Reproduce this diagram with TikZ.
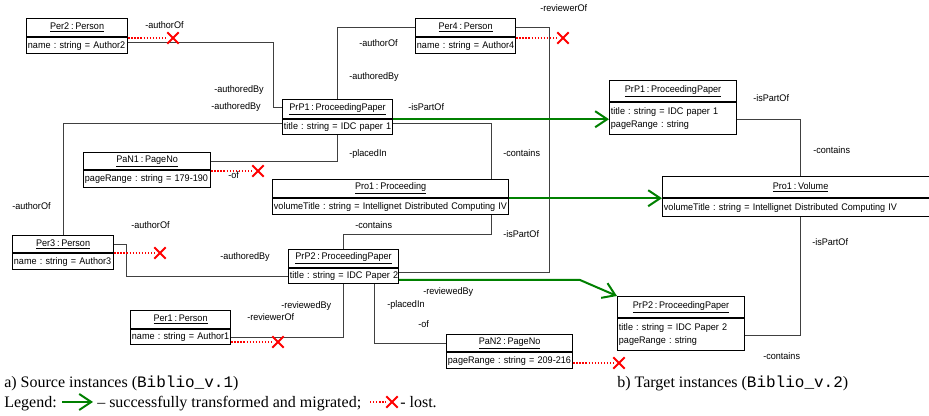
\documentclass[tikz,border=0pt]{standalone}
\usepackage{fontspec}
\setmainfont{Liberation Serif}
\setmonofont{Liberation Mono}
\newfontfamily\umlfont{Liberation Sans}[WordSpace=0.7,FakeStretch=0.945]
\usetikzlibrary{arrows.meta,shapes.misc}
\definecolor{migrgreen}{RGB}{0,128,0}
\definecolor{conngray}{RGB}{64,64,64}

% compact sans serif used inside the object boxes
\newcommand\umltext[1]{\umlfont\fontsize{7.2}{#1}\selectfont\frenchspacing}

\tikzset{
  px/.style={x=0.75pt,y=-0.75pt},
  hdr/.style={draw=black, line width=0.9pt, fill=white, font=\umltext{8.5},
    inner sep=0pt, anchor=north west, align=center},
  att/.style={draw=black, line width=0.9pt, fill=white, font=\umltext{9.6},
    inner xsep=1pt, inner ysep=0pt, anchor=north west, align=left},
  conn/.style={draw=conngray, line width=0.75pt},
  lost/.style={draw=red, line width=1pt, dash pattern=on 1pt off 1.3pt},
  lostx/.style={cross out, draw=red, line width=1.5pt, minimum size=7pt, inner sep=0pt},
  migr/.style={draw=migrgreen, line width=1.5pt,
    -{Straight Barb[length=9pt,width=12pt,line width=1.5pt]}},
  role/.style={font=\umltext{8}, inner sep=0pt, anchor=base west},
  capt/.style={font=\fontsize{12}{14}\selectfont, inner sep=0pt, anchor=base west},
}

% UML object: name, left, top, width, header height, attribute height, header, attributes
\newcommand\objbox[8]{%
  \pgfmathsetlengthmacro\objw{#4*0.75pt}%
  \pgfmathsetlengthmacro\objtw{#4*0.75pt-2pt}%
  \pgfmathsetlengthmacro\objhh{#5*0.75pt}%
  \pgfmathsetlengthmacro\objah{#6*0.75pt}%
  \node[hdr, minimum width=\objw, minimum height=\objhh] (#1) at (#2,#3) {\underline{#7}};
  \node[att, text width=\objtw, minimum height=\objah] (#1a) at (#1.south west) {#8};
}

\begin{document}
\begin{tikzpicture}[px]
\useasboundingbox (0,0) rectangle (929,416);
\clip (0,0) rectangle (929,416);
\fill[white] (0,0) rectangle (929,416);

% source instances
\objbox{per2}{26}{18}{101}{18}{16}{Per2 : Person}{\mbox{name : string = Author2}}
\objbox{per4}{415}{18}{100}{18}{16}{Per4 : Person}{\mbox{name : string = Author4}}
\objbox{prp1}{282}{99}{110}{19}{15}{PrP1 : ProceedingPaper}{\mbox{title : string = IDC paper 1}}
\objbox{pan1}{83}{152}{127}{17}{17}{PaN1 : PageNo}{\mbox{pageRange : string = 179-190}}
\objbox{pro1}{272}{179}{236}{18}{16}{Pro1 : Proceeding}{\mbox{volumeTitle : string = Intellignet Distributed Computing IV}}
\objbox{per3}{12}{235}{101}{17}{16}{Per3 : Person}{\mbox{name : string = Author3}}
\objbox{prp2}{288}{249}{110}{18}{15}{PrP2 : ProceedingPaper}{\mbox{title : string = IDC Paper 2}}
\objbox{per1}{130}{310}{100}{18}{15}{Per1 : Person}{\mbox{name : string = Author1}}
\objbox{pan2}{446}{334}{126}{17}{16}{PaN2 : PageNo}{\mbox{pageRange : string = 209-216}}

% target instances
\objbox{tprp1}{609}{80}{127}{21}{32}{PrP1 : ProceedingPaper}{\mbox{title : string = IDC paper 1}\\\mbox{pageRange : string}}
\objbox{tpro1}{662}{176}{276}{21}{18}{Pro1 : Volume}{\mbox{volumeTitle : string = Intellignet Distributed Computing IV}}
\objbox{tprp2}{617}{296}{127}{21}{32}{PrP2 : ProceedingPaper}{\mbox{title : string = IDC Paper 2}\\\mbox{pageRange : string}}

% links between source objects
\draw[conn] (per2a.east |- 0,43) -| (273,108) -- (prp1.west |- 0,108);
\draw[conn] (per4.west) -| (prp1.north);
\draw[conn] (per4.east) -| (549,273) -- (prp2a.east |- 0,273);
\draw[conn] (prp1a.west |- 0,124) -| (per3.north);
\draw[conn] (prp1a.south) |- (pan1.east);
\draw[conn] (prp1a.east |- 0,124) -| (491,0 |- pro1.north);
\draw[conn] (491,0 |- pro1a.south) |- (prp2.north |- 0,235) -- (prp2.north);
\draw[conn] (per3.east) -- ++(12,0) |- (prp2a.west);
\draw[conn] (prp2a.south) |- (per1a.east);
\draw[conn] (374,0 |- prp2a.south) |- (pan2.west);

% links between target objects
\draw[conn] (tprp1a.east |- 0,120) -| (tpro1.north);
\draw[conn] (tpro1a.south) |- (tprp2a.east |- 0,336);

% lost links
\node[lostx] (x1) at (173,38) {};
\draw[lost] (per2a.east |- x1) -- (x1);
\node[lostx] (x2) at (563,38) {};
\draw[lost] (per4a.east |- x2) -- (x2);
\node[lostx] (x3) at (258,171) {};
\draw[lost] (pan1a.east |- x3) -- (x3);
\node[lostx] (x4) at (160,253) {};
\draw[lost] (per3a.east |- x4) -- (x4);
\node[lostx] (x5) at (278,342) {};
\draw[lost] (per1a.east |- x5) -- (x5);
\node[lostx] (x6) at (619,363) {};
\draw[lost] (pan2a.east |- x6) -- (x6);

% migrated objects
\draw[migr] (prp1.south east) -- (tprp1a.west |- prp1.south east);
\draw[migr] (pro1.south east) -- (tpro1a.west |- pro1.south east);
\draw[migr] (prp2a.east |- 0,280) -- (580,280) -- (tprp2.north west);

% role names
\node[role] (r1) at (145,28.5) {-authorOf};
\node[role] (r2) at (214,92.5) {-authoredBy};
\node[role] (r3) at (211,109.5) {-authoredBy};
\node[role] (r4) at (359,46.5) {-authorOf};
\node[role] (r5) at (349,79.5) {-authoredBy};
\node[role] (r6) at (540,11.5) {-reviewerOf};
\node[role] (r7) at (408,110.5) {-isPartOf};
\node[role] (r8) at (349,157) {-placedIn};
\node[role] (r9) at (228,179) {-of};
\node[role] (r10) at (503,156.5) {-contains};
\node[role] (r11) at (12,209.5) {-authorOf};
\node[role] (r12) at (131,228.5) {-authorOf};
\node[role] (r13) at (220,259.5) {-authoredBy};
\node[role] (r14) at (355,228.5) {-contains};
\node[role] (r15) at (503,237.5) {-isPartOf};
\node[role] (r16) at (281,308.5) {-reviewedBy};
\node[role] (r17) at (247,320.5) {-reviewerOf};
\node[role] (r18) at (387,307.5) {-placedIn};
\node[role] (r19) at (423,295) {-reviewedBy};
\node[role] (r20) at (418,327.5) {-of};
\node[role] (r21) at (753,101.5) {-isPartOf};
\node[role] (r22) at (813,153.5) {-contains};
\node[role] (r23) at (812,245.5) {-isPartOf};
\node[role] (r24) at (763,359.5) {-contains};

% captions and legend
\node[capt] (capa) at (4,388) {a) Source instances ({\ttfamily Biblio\_v.1})};
\node[capt] (capb) at (617,388) {b) Target instances ({\ttfamily Biblio\_v.2})};
\node[capt] (leg) at (4,408) {Legend:};
\coordinate (lga) at (62,402);
\coordinate (lgb) at (93,402);
\draw[migr] (lga) -- (lgb);
\node[capt] (legok) at (97,408) {– successfully transformed and migrated;};
\coordinate (lgl) at (370,402);
\node[lostx] (lgx) at (392,402) {};
\draw[lost] (lgl) -- (lgx);
\node[capt] (leglost) at (400,408) {- lost.};
\end{tikzpicture}
\end{document}
